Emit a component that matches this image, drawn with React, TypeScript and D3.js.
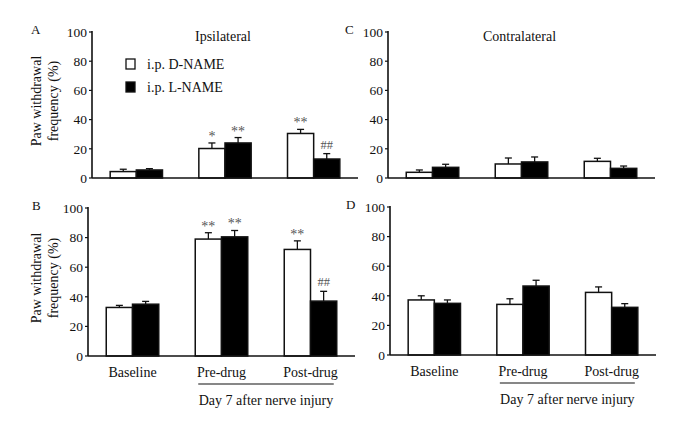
import React from "react";
import * as d3 from "d3";

const categories = ["Baseline", "Pre-drug", "Post-drug"];
const seriesNames = ["i.p. D-NAME", "i.p. L-NAME"];
const yTicks = [0, 20, 40, 60, 80, 100];

// Panel A – ipsilateral (upper)
const ipsiA_D = [4.4, 20.2, 30.5];
const ipsiA_D_err = [1.6, 3.8, 2.8];
const ipsiA_L = [5.5, 24, 13];
const ipsiA_L_err = [0.9, 3.7, 3.7];
const ipsiA_D_sig = ["", "*", "**"];
const ipsiA_L_sig = ["", "**", "##"];

// Panel B – ipsilateral (lower)
const ipsiB_D = [32.8, 79, 72];
const ipsiB_D_err = [1.4, 4.3, 5.8];
const ipsiB_L = [35, 80.5, 37.1];
const ipsiB_L_err = [1.9, 4.3, 6.6];
const ipsiB_D_sig = ["", "**", "**"];
const ipsiB_L_sig = ["", "**", "##"];

// Panel C – contralateral (upper)
const contraC_D = [3.9, 9.6, 11.4];
const contraC_D_err = [1.6, 4.1, 2.1];
const contraC_L = [7.3, 11, 6.6];
const contraC_L_err = [2.1, 3.4, 1.6];

// Panel D – contralateral (lower)
const contraD_D = [37.2, 34.2, 42.3];
const contraD_D_err = [2.8, 3.8, 3.7];
const contraD_L = [34.9, 46.6, 32.2];
const contraD_L_err = [2.3, 3.9, 2.5];

const empty = ["", "", ""];

const FONT = "'Liberation Serif', 'Times New Roman', serif";

type PanelProps = {
  letter: string;
  title?: string;
  x0: number;
  x1: number;
  yTop: number;
  yBot: number;
  dVals: number[];
  dErr: number[];
  lVals: number[];
  lErr: number[];
  dSig: string[];
  lSig: string[];
  showCats: boolean;
  yLabel: boolean;
  legend: boolean;
  letterX: number;
};

function Panel(p: PanelProps) {
  const x = d3
    .scaleBand<string>()
    .domain(categories)
    .range([p.x0, p.x1])
    .paddingInner(0.41)
    .paddingOuter(0.205);
  const xs = d3
    .scaleBand<string>()
    .domain(seriesNames)
    .range([0, x.bandwidth()])
    .padding(0);
  const y = d3.scaleLinear().domain([0, 100]).range([p.yBot, p.yTop]);
  const series = [
    { name: seriesNames[0], vals: p.dVals, err: p.dErr, sig: p.dSig, fill: "#fff" },
    { name: seriesNames[1], vals: p.lVals, err: p.lErr, sig: p.lSig, fill: "#000" },
  ];
  const bw = xs.bandwidth();
  const preStart = (x(categories[1]) as number) + 3;
  const postEnd = (x(categories[2]) as number) + x.bandwidth() - 3;
  const midY = (p.yTop + p.yBot) / 2;
  return (
    <g fontFamily={FONT}>
      {/* panel letter */}
      <text x={p.letterX} y={p.yTop + 2} fontSize={13} fill="#111">
        {p.letter}
      </text>
      {p.title && (
        <text
          x={(p.x0 + p.x1) / 2 - 2}
          y={p.yTop + 9}
          fontSize={14}
          textAnchor="middle"
          fill="#111"
        >
          {p.title}
        </text>
      )}
      {/* y ticks */}
      {yTicks.map((t) => (
        <g key={t}>
          <line x1={p.x0 - 3} x2={p.x0} y1={y(t)} y2={y(t)} stroke="#111" strokeWidth={1.2} />
          <text
            x={p.x0 - 5}
            y={y(t)}
            dy="0.35em"
            fontSize={13.5}
            textAnchor="end"
            fill="#111"
          >
            {t}
          </text>
        </g>
      ))}
      {/* bars */}
      {categories.map((c, i) =>
        series.map((s) => {
          const bx = (x(c) as number) + (xs(s.name) as number);
          const top = y(s.vals[i]);
          const et = y(s.vals[i] + s.err[i]);
          const cx = bx + bw / 2;
          return (
            <g key={c + s.name}>
              <line x1={cx} x2={cx} y1={top} y2={et} stroke="#111" strokeWidth={1.3} />
              <line x1={cx - 3.5} x2={cx + 3.5} y1={et} y2={et} stroke="#111" strokeWidth={1.3} />
              <rect
                x={bx}
                y={top}
                width={bw}
                height={p.yBot - top}
                fill={s.fill}
                stroke="#111"
                strokeWidth={1.5}
              />
              {s.sig[i] && (
                <text
                  x={cx}
                  y={s.sig[i].startsWith("#") ? et - 5 : et - 2}
                  fontSize={s.sig[i].startsWith("#") ? 12.5 : 14}
                  textAnchor="middle"
                  fill="#555"
                >
                  {s.sig[i]}
                </text>
              )}
            </g>
          );
        })
      )}
      {/* axes */}
      <line x1={p.x0} x2={p.x0} y1={p.yTop - 1} y2={p.yBot} stroke="#111" strokeWidth={1.6} />
      <line x1={p.x0} x2={p.x1} y1={p.yBot} y2={p.yBot} stroke="#111" strokeWidth={1.6} />
      {p.showCats && (
        <g>
          {categories.map((c) => (
            <text
              key={c}
              x={(x(c) as number) + x.bandwidth() / 2}
              y={p.yBot + 21}
              fontSize={14}
              textAnchor="middle"
              fill="#111"
            >
              {c}
            </text>
          ))}
          <line x1={preStart} x2={postEnd} y1={p.yBot + 28} y2={p.yBot + 28} stroke="#111" strokeWidth={1.2} />
          <text
            x={(preStart + postEnd) / 2}
            y={p.yBot + 49}
            fontSize={14}
            textAnchor="middle"
            fill="#111"
          >
            Day 7 after nerve injury
          </text>
        </g>
      )}
      {p.yLabel && (
        <g transform={`translate(0, ${midY - 4})`}>
          <text
            transform="translate(41, 0) rotate(-90)"
            fontSize={14}
            textAnchor="middle"
            fill="#111"
          >
            Paw withdrawal
          </text>
          <text
            transform="translate(58, 0) rotate(-90)"
            fontSize={14}
            textAnchor="middle"
            fill="#111"
          >
            frequency (%)
          </text>
        </g>
      )}
      {p.legend && (
        <g fontSize={14} fill="#111">
          <rect x={126} y={59} width={9} height={10} fill="#fff" stroke="#111" strokeWidth={1.3} />
          <text x={147} y={68.5}>{seriesNames[0]}</text>
          <rect x={126} y={82} width={9} height={10} fill="#000" stroke="#111" strokeWidth={1.3} />
          <text x={147} y={91.5}>{seriesNames[1]}</text>
        </g>
      )}
    </g>
  );
}

export default function App() {
  return (
    <svg
      width={685}
      height={439}
      style={{ position: "absolute", left: 0, top: 0, background: "#fff" }}
    >
      <rect width={685} height={439} fill="#fff" />
      <Panel
        letter="A"
        title="Ipsilateral"
        x0={92}
        x1={358}
        yTop={32}
        yBot={178}
        dVals={ipsiA_D}
        dErr={ipsiA_D_err}
        lVals={ipsiA_L}
        lErr={ipsiA_L_err}
        dSig={ipsiA_D_sig}
        lSig={ipsiA_L_sig}
        showCats={false}
        yLabel={true}
        legend={true}
        letterX={31}
      />
      <Panel
        letter="B"
        x0={88}
        x1={355}
        yTop={208}
        yBot={356}
        dVals={ipsiB_D}
        dErr={ipsiB_D_err}
        lVals={ipsiB_L}
        lErr={ipsiB_L_err}
        dSig={ipsiB_D_sig}
        lSig={ipsiB_L_sig}
        showCats={true}
        yLabel={true}
        legend={false}
        letterX={32}
      />
      <Panel
        letter="C"
        title="Contralateral"
        x0={388}
        x1={655}
        yTop={32}
        yBot={178}
        dVals={contraC_D}
        dErr={contraC_D_err}
        lVals={contraC_L}
        lErr={contraC_L_err}
        dSig={empty}
        lSig={empty}
        showCats={false}
        yLabel={false}
        legend={false}
        letterX={345}
      />
      <Panel
        letter="D"
        x0={390}
        x1={656}
        yTop={207}
        yBot={355}
        dVals={contraD_D}
        dErr={contraD_D_err}
        lVals={contraD_L}
        lErr={contraD_L_err}
        dSig={empty}
        lSig={empty}
        showCats={true}
        yLabel={false}
        legend={false}
        letterX={346}
      />
    </svg>
  );
}
